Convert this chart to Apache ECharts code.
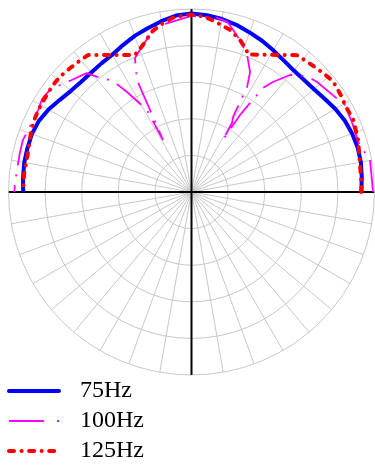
<!DOCTYPE html>
<html><head><meta charset="utf-8">
<script src="https://cdn.jsdelivr.net/npm/echarts@6/dist/echarts.min.js"></script>
<style>html,body{margin:0;padding:0;background:#fff}#c{width:375px;height:466px}</style>
</head><body><div id="c"></div>
<script>
// Series names (legend)
const seriesNames = ['75Hz', '100Hz', '125Hz'];

// 75Hz (blue, solid) — angle in degrees, radius in axis units (0..50)
const angles75 = [0,5,10,15,20,25,30,35,40,45,50,55,60,65,70,75,80,85,90,95,100,105,110,115,120,125,130,135,140,145,150,155,160,165,170,175,180];
const radii75  = [46.4,46.7,47.0,47.0,46.7,46.2,45.4,44.4,43.7,43.4,43.4,43.9,44.7,45.6,46.4,47.3,48.0,48.5,48.8,48.4,47.4,46.3,45.4,44.3,43.3,42.9,42.6,42.6,43.0,43.9,45.1,46.0,46.4,46.4,46.4,46.2,46.0];

// 100Hz (magenta, long dash-dot)
const angles100 = [0,10.8,15,23.6,29.5,41.2,45.1,49.9,53.5,55.5,57.8,58.8,59.6,61,62.1,64,67.9,72.3,78,82,90,100,104.8,108.3,112.9,116,116.8,118.7,118.6,118.5,122.8,124.4,126,129.4,131.4,136.9,140.9,144.2,148,151.9,155.6,160,162.8,167.2,177.1,180];
const radii100  = [49.6,49.6,47.7,47.8,48.2,45.6,44.7,41.8,37.4,34.5,24.9,16.6,21.9,23.4,32.5,36.5,40.4,43.6,47.5,48.1,48.1,46.4,44.4,42.3,39.7,34.0,25.1,16.2,20.8,25.5,32.5,35.4,37.8,40.8,43.3,44.8,46.3,47.7,48.1,47.5,47.6,47.8,48.2,48.1,48.3,48.4];

// 125Hz (red, dash-dot)
const angles125 = [0,2,8.5,13,17.3,24,29.5,32.4,38,42,46.6,52.4,67.7,68.8,72.3,76.6,82,86,90,92,96.4,100.7,103.9,105.5,108.3,112.4,127.1,130.3,134.5,138.8,142.3,146.2,150.6,154.7,158.2,161.5,165.6,174.2,180];
const radii125  = [46.4,46.5,46.6,47.0,47.7,48.4,48.2,48.6,49.1,48.5,47.8,47.2,40.6,41.6,43.6,45.5,47.0,48.1,48.4,48.4,47.8,46.4,45.1,44.0,42.3,40.5,46.9,47.1,47.4,47.8,47.8,47.6,47.5,47.3,47.0,46.5,46.0,46.0,46.0];

// Radial axis range and ring step
const radiusMax = 50;
const radiusStep = 10;
const angleStep = 10;

function pairs(rs, as) { return rs.map((r, i) => [r, as[i]]); }

const styles = [
  { color: '#0000ff', width: 4, type: 'solid' },
  { color: '#ff00ff', width: 1.8, type: [32, 9, 2, 9] },
  { color: '#ff0000', width: 4, type: [5, 7.5, 0.1, 7.5], cap: 'round' }
];
const legendStyles = [
  { color: '#0000ff', width: 4, type: 'solid', cap: 'round' },
  { color: '#ff00ff', width: 1.8, type: [35, 13, 2, 13] },
  { color: '#ff0000', width: 4, type: [5, 7.5, 0.1, 7.5], cap: 'round' }
];

const chart = echarts.init(document.getElementById('c'), null, {renderer: 'canvas'});
const gridColor = '#c8c8c8';

chart.setOption({
  animation: false,
  backgroundColor: '#ffffff',
  polar: { center: [191.5, 192], radius: 183 },
  angleAxis: {
    type: 'value', min: 0, max: 360, interval: angleStep,
    startAngle: 0, clockwise: false,
    axisLine: { show: false }, axisTick: { show: false }, axisLabel: { show: false },
    splitLine: { show: true, lineStyle: { color: gridColor, width: 1 } }
  },
  radiusAxis: {
    type: 'value', min: 0, max: radiusMax, interval: radiusStep,
    axisLine: { show: false }, axisTick: { show: false }, axisLabel: { show: false },
    splitLine: { show: true, lineStyle: { color: gridColor, width: 1 } }
  },
  legend: {
    orient: 'vertical', left: 7, top: 379, padding: 0,
    itemWidth: 50, itemHeight: 14, itemGap: 6,
    data: seriesNames.map((n, i) => ({ name: n, lineStyle: legendStyles[i], itemStyle: { opacity: 0 } })),
    itemStyle: { opacity: 0 },
    textStyle: { fontFamily: 'Liberation Serif', fontSize: 24, lineHeight: 24, color: '#000', padding: [0, 0, 0, 16] }
  },
  series: [
    { type: 'line', coordinateSystem: 'polar', silent: true, symbol: 'none',
      data: [[radiusMax, 180], [radiusMax, 0]], lineStyle: { color: '#000', width: 2 }, z: 1 },
    { type: 'line', coordinateSystem: 'polar', silent: true, symbol: 'none',
      data: [[radiusMax, 90], [radiusMax, 270]], lineStyle: { color: '#000', width: 2 }, z: 1 },
    { name: seriesNames[0], type: 'line', coordinateSystem: 'polar', symbol: 'none',
      data: pairs(radii75, angles75), lineStyle: styles[0], itemStyle: { color: '#0000ff' }, z: 3 },
    { name: seriesNames[1], type: 'line', coordinateSystem: 'polar', symbol: 'none',
      data: pairs(radii100, angles100), lineStyle: styles[1], itemStyle: { color: '#ff00ff' }, z: 4 },
    { name: seriesNames[2], type: 'line', coordinateSystem: 'polar', symbol: 'none',
      data: pairs(radii125, angles125), lineStyle: styles[2], itemStyle: { color: '#ff0000' }, z: 5 }
  ]
});
</script>
</body></html>
